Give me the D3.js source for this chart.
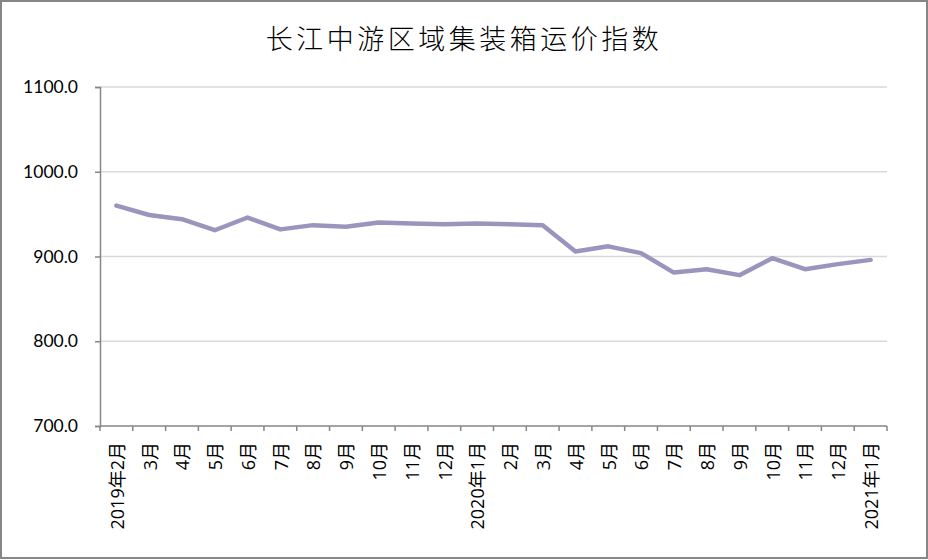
<!DOCTYPE html>
<html>
<head>
<meta charset="utf-8">
<script src="https://cdn.jsdelivr.net/npm/d3@7"></script>
<style>
  html,body{margin:0;padding:0;background:#fff}
  #chart{width:928px;height:560px}
</style>
</head>
<body>
<div id="chart"></div>
<script>
const months = ["2019年2月","3月","4月","5月","6月","7月","8月","9月","10月","11月","12月",
  "2020年1月","2月","3月","4月","5月","6月","7月","8月","9月","10月","11月","12月","2021年1月"]
const values = [960,949,944,931,946,932,937,935,940,939,938,939,938,937,906,912,904,881,885,878,898,885,891,896]
const yTicks = [700,800,900,1000,1100]
const title = "长江中游区域集装箱运价指数"

drawChart("#chart")

function drawChart(id){
  const canvas = {width:928,height:560,margin:{top:87,right:41,bottom:134,left:100}}
  const svg = d3.select(id).append("svg").attr("width",canvas.width).attr("height",canvas.height)

  svg.append("rect").attr("x",1).attr("y",1).attr("width",canvas.width-2).attr("height",canvas.height-3)
    .attr("fill","#fff").attr("stroke","#868686").attr("stroke-width",2)

  // month names repeat, so the band scale works on indexes
  const idx = d3.range(months.length)
  const x = d3.scaleBand().domain(idx)
    .range([canvas.margin.left,canvas.width-canvas.margin.right])
  const y = d3.scaleLinear().domain([700,1100])
    .range([canvas.height-canvas.margin.bottom,canvas.margin.top])

  // grid
  svg.append("g").selectAll("line").data(yTicks.slice(1)).enter().append("line")
    .attr("x1",x.range()[0]).attr("x2",x.range()[1])
    .attr("y1",d => y(d)).attr("y2",d => y(d))
    .attr("stroke","#d9d9d9").attr("stroke-width",1.5)

  // y axis
  const ya = svg.append("g").attr("transform",`translate(${canvas.margin.left},0)`)
    .call(d3.axisLeft(y).tickValues(yTicks).tickSize(5).tickPadding(17).tickFormat(d3.format(".1f")))
  ya.select(".domain").attr("stroke","#868686").attr("stroke-width",1.5)
  ya.selectAll(".tick line").attr("stroke","#868686").attr("stroke-width",1.5)
  ya.selectAll("text").attr("font-family","Lato, 'Noto Sans'").attr("font-size","17.5px").attr("fill","#000")

  // x axis: ticks at band edges
  const yb = y(700)
  const xa = svg.append("g")
  xa.append("line").attr("x1",x.range()[0]).attr("x2",x.range()[1]).attr("y1",yb).attr("y2",yb)
    .attr("stroke","#868686").attr("stroke-width",1.5)
  const edges = idx.map(i => x(i)).concat([x.range()[1]])
  xa.selectAll(".tk").data(edges).enter().append("line").attr("class","tk")
    .attr("x1",d => d).attr("x2",d => d).attr("y1",yb).attr("y2",yb+5)
    .attr("stroke","#868686").attr("stroke-width",1.5)
  xa.selectAll("text").data(idx).enter().append("text")
    .attr("transform",i => `translate(${x(i)+x.bandwidth()/2+1},${yb+16}) rotate(-90)`)
    .attr("text-anchor","end").attr("dy","0.35em")
    .attr("font-family","'Open Sans', 'Noto Sans CJK SC'").attr("font-size","18px").attr("fill","#000")
    .text(i => months[i])

  // line
  const line = d3.line().x((d,i) => x(i)+x.bandwidth()/2).y(d => y(d))
  svg.append("path").datum(values).attr("fill","none").attr("stroke","#9d94bd")
    .attr("stroke-width",4.5).attr("stroke-linejoin","round").attr("stroke-linecap","round")
    .attr("d",line)

  // title
  svg.append("text").attr("x",464).attr("y",49).attr("text-anchor","middle")
    .attr("font-family","'Noto Sans CJK SC'").attr("font-size","27px").attr("font-weight",300)
    .attr("letter-spacing","3.5px").attr("fill","#000").text(title)
}
</script>
</body>
</html>
